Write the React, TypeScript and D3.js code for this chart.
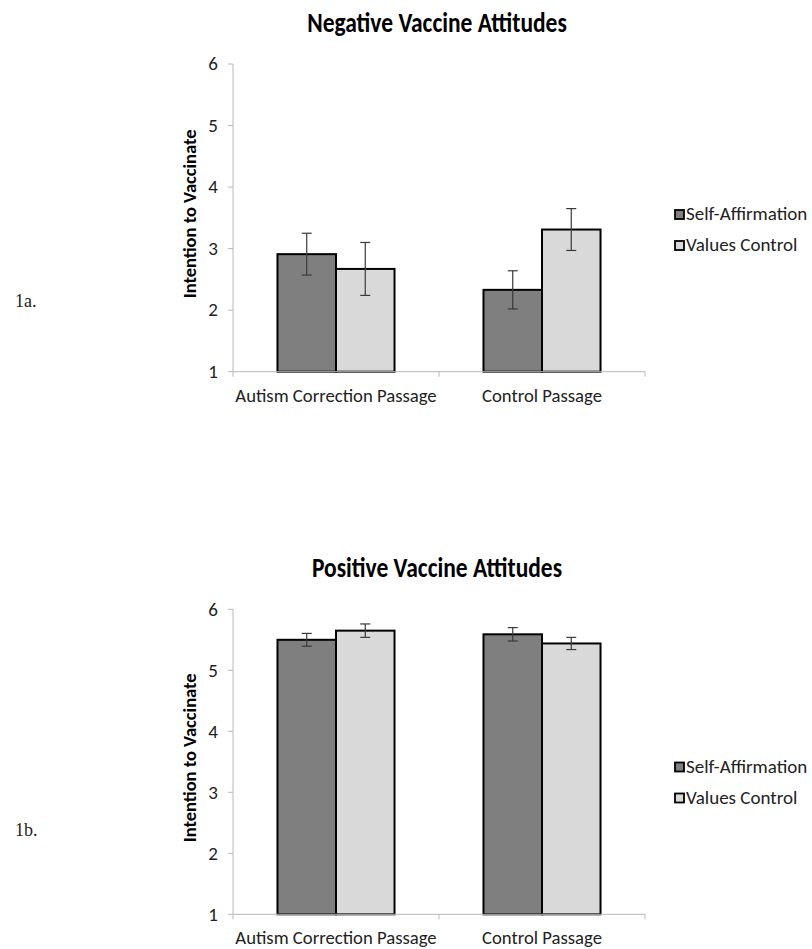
import React from "react";
import * as d3 from "d3";

const categories = ["Autism Correction Passage", "Control Passage"];
const seriesNames = ["Self-Affirmation", "Values Control"];
const yTicks = [1, 2, 3, 4, 5, 6];

const negMeans = [
  [2.91, 2.33],
  [2.67, 3.31],
];
const negErrors = [
  [0.34, 0.31],
  [0.43, 0.34],
];
const posMeans = [
  [5.5, 5.59],
  [5.65, 5.44],
];
const posErrors = [
  [0.105, 0.11],
  [0.11, 0.1],
];

const colors = ["#7f7f7f", "#d9d9d9"];
const FONT = "Carlito, Calibri, Lato, 'Open Sans', sans-serif";

type PanelProps = {
  title: string;
  means: number[][];
  errors: number[][];
  top: number;
  bottom: number;
  titleY: number;
  legendY: number;
  label: string;
  labelY: number;
};

function Panel({ title, means, errors, top, bottom, titleY, legendY, label, labelY }: PanelProps) {
  const x0 = d3.scaleBand<string>().domain(categories).range([233, 645]).paddingInner(0).paddingOuter(0);
  const x1 = d3
    .scaleBand<string>()
    .domain(seriesNames)
    .range([0, x0.bandwidth()])
    .paddingOuter(0.76)
    .paddingInner(0);
  const y = d3.scaleLinear().domain([1, 6]).range([bottom, top]);
  const axisColor = "#b8b8b8";
  const xTickPositions = [233, ...categories.map((c) => (x0(c) as number) + x0.bandwidth())];
  return (
    <g>
      <text
        transform={`translate(437,${titleY}) scale(1,1.22)`}
        textAnchor="middle"
        fontFamily={FONT}
        fontWeight="bold"
        fontSize={23.5}
        fill="#000"
      >
        {title}
      </text>
      <line x1={233} x2={233} y1={top} y2={bottom} stroke={axisColor} strokeWidth={1} />
      {yTicks.map((t) => (
        <g key={t}>
          <line x1={228} x2={233} y1={y(t)} y2={y(t)} stroke={axisColor} />
          <text x={218} y={y(t)} dy="0.33em" textAnchor="end" fontFamily={FONT} fontSize={19} fill="#222">
            {t}
          </text>
        </g>
      ))}
      <text
        transform={`translate(196,${(top + bottom) / 2 - 4}) rotate(-90)`}
        textAnchor="middle"
        fontFamily={FONT}
        fontWeight="bold"
        fontSize={18.5}
        fill="#000"
      >
        Intention to Vaccinate
      </text>
      {seriesNames.map((s, si) =>
        categories.map((c, ci) => {
          const bx = (x0(c) as number) + (x1(s) as number);
          const v = means[si][ci];
          return (
            <rect
              key={s + c}
              x={bx}
              y={y(v)}
              width={x1.bandwidth()}
              height={y(1) - y(v)}
              fill={colors[si]}
              stroke="#000"
              strokeWidth={2}
            />
          );
        })
      )}
      <line x1={233} x2={645} y1={bottom} y2={bottom} stroke={axisColor} />
      {xTickPositions.map((p, i) => (
        <line key={i} x1={p} x2={p} y1={bottom} y2={bottom + 5} stroke={axisColor} />
      ))}
      {categories.map((c) => (
        <text
          key={c}
          x={(x0(c) as number) + x0.bandwidth() / 2}
          y={bottom + 30}
          textAnchor="middle"
          fontFamily={FONT}
          fontSize={18.7}
          fill="#222"
        >
          {c}
        </text>
      ))}
      {seriesNames.map((s, si) =>
        categories.map((c, ci) => {
          const cx = (x0(c) as number) + (x1(s) as number) + x1.bandwidth() / 2;
          const v = means[si][ci];
          const e = errors[si][ci];
          return (
            <g key={"e" + s + c} stroke="#3a3a3a" strokeWidth={1.2}>
              <line x1={cx} x2={cx} y1={y(v + e)} y2={y(v - e)} />
              <line x1={cx - 5} x2={cx + 5} y1={y(v + e)} y2={y(v + e)} />
              <line x1={cx - 5} x2={cx + 5} y1={y(v - e)} y2={y(v - e)} />
            </g>
          );
        })
      )}
      {seriesNames.map((s, i) => (
        <g key={s} transform={`translate(674,${legendY + i * 31})`}>
          <rect x={1} y={-10} width={9} height={9} fill={colors[i]} stroke="#000" strokeWidth={1.8} />
          <text x={12} y={0} fontFamily={FONT} fontSize={19} fill="#222">
            {s}
          </text>
        </g>
      ))}
      <text x={15} y={labelY} fontFamily="'Liberation Serif', 'DejaVu Serif', serif" fontSize={18} fill="#222">
        {label}
      </text>
    </g>
  );
}

export default function App() {
  return (
    <svg width={812} height={949} style={{ position: "absolute", left: 0, top: 0, background: "#fff" }}>
      <rect width={812} height={949} fill="#fff" />
      <Panel
        title="Negative Vaccine Attitudes"
        means={negMeans}
        errors={negErrors}
        top={64}
        bottom={371.7}
        titleY={32}
        legendY={220}
        label="1a."
        labelY={307}
      />
      <Panel
        title="Positive Vaccine Attitudes"
        means={posMeans}
        errors={posErrors}
        top={609.3}
        bottom={914.3}
        titleY={577}
        legendY={772.5}
        label="1b."
        labelY={836}
      />
    </svg>
  );
}
